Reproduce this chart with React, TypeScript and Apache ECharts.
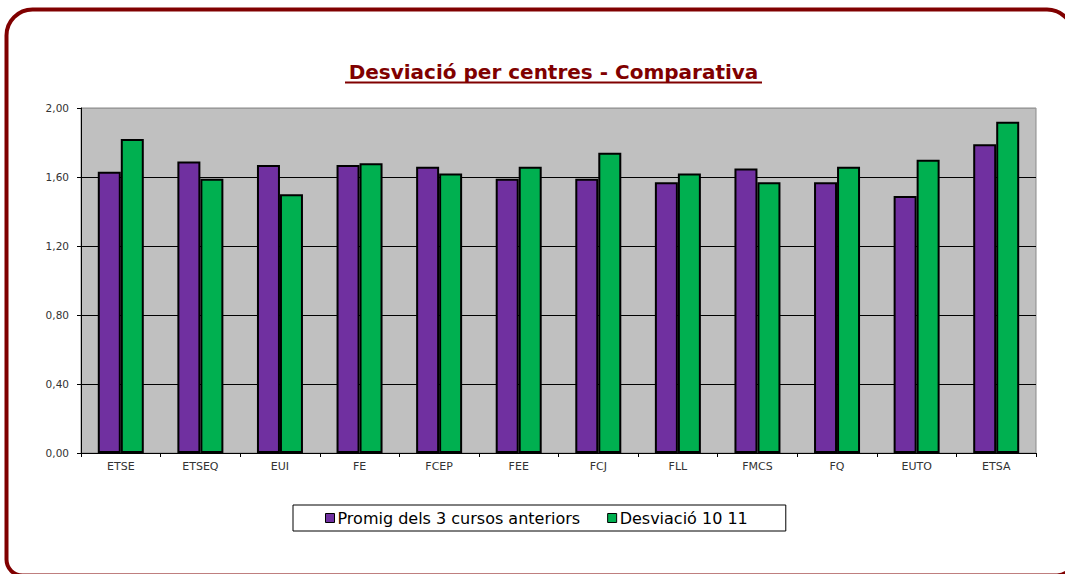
import React, { useEffect, useRef } from "react";
import * as echarts from "echarts";

const categories = ["ETSE", "ETSEQ", "EUI", "FE", "FCEP", "FEE", "FCJ", "FLL", "FMCS", "FQ", "EUTO", "ETSA"];
const promigValues = [1.63, 1.69, 1.67, 1.67, 1.66, 1.59, 1.59, 1.57, 1.65, 1.57, 1.49, 1.79];
const desviacioValues = [1.82, 1.59, 1.5, 1.68, 1.62, 1.66, 1.74, 1.62, 1.57, 1.66, 1.7, 1.92];
const seriesNames = ["Promig dels 3 cursos anteriors", "Desviació 10 11"];
const titleText = "Desviació per centres - Comparativa";

export default function App() {
  const ref = useRef<HTMLDivElement>(null);
  useEffect(() => {
    if (!ref.current) return;
    const chart = echarts.init(ref.current, undefined, { renderer: "svg" });
    const font = "'DejaVu Sans', Verdana, sans-serif";
    chart.setOption({
      animation: false,
      backgroundColor: "#ffffff",
      textStyle: { fontFamily: font },
      grid: {
        left: 81,
        right: 29,
        top: 108,
        bottom: 121,
        show: true,
        backgroundColor: "#C0C0C0",
        borderColor: "#8a8a8a",
        borderWidth: 1,
      },
      legend: {
        left: 293,
        top: 505,
        orient: "horizontal",
        icon: "rect",
        itemWidth: 9,
        itemHeight: 9,
        itemGap: 27,
        padding: [5, 38, 5, 32],
        backgroundColor: "#ffffff",
        borderColor: "#000000",
        borderWidth: 1,
        textStyle: { fontSize: 16, color: "#000", fontFamily: font, padding: [0, 0, 0, -2] },
        itemStyle: { borderColor: "#000", borderWidth: 1 },
        data: seriesNames,
      },
      xAxis: {
        type: "category",
        data: categories,
        axisLine: { lineStyle: { color: "#000", width: 1 } },
        axisTick: { show: true, length: 4, lineStyle: { color: "#000" } },
        axisLabel: { fontSize: 11, color: "#333", margin: 8, fontFamily: font },
      },
      yAxis: {
        type: "value",
        min: 0,
        max: 2,
        interval: 0.4,
        axisLine: { show: true, lineStyle: { color: "#000", width: 1 } },
        axisTick: { show: true, length: 4, lineStyle: { color: "#000" } },
        axisLabel: {
          fontSize: 10.5,
          color: "#333",
          margin: 12,
          fontFamily: font,
          formatter: (v: number) => v.toFixed(2).replace(".", ","),
        },
        splitLine: {
          show: true,
          lineStyle: { color: ["#000", "#000", "#000", "#000", "#000", "#9a9a9a"], width: 1 },
        },
      },
      series: [
        {
          name: seriesNames[0],
          type: "bar",
          data: promigValues,
          barWidth: 23,
          barGap: "0%",
          itemStyle: { color: "#7030A0", borderColor: "#000", borderWidth: 2 },
        },
        {
          name: seriesNames[1],
          type: "bar",
          data: desviacioValues,
          barWidth: 23,
          barGap: "0%",
          itemStyle: { color: "#00B050", borderColor: "#000", borderWidth: 2 },
        },
      ],
      graphic: [
        {
          type: "rect",
          shape: { x: 6.5, y: 9.5, width: 1066.5, height: 566, r: [26, 26, 16, 16] },
          style: { fill: "none", stroke: "#800000", lineWidth: 4 },
          silent: true,
        },
        {
          type: "text",
          x: 553.5,
          y: 72,
          style: {
            text: titleText,
            fill: "#800000",
            font: "bold 20px 'DejaVu Sans', Verdana, sans-serif",
            textAlign: "center",
            textVerticalAlign: "middle",
          },
        },
        {
          type: "line",
          shape: { x1: 345, y1: 82.5, x2: 762, y2: 82.5 },
          style: { stroke: "#800000", lineWidth: 2 },
        },
      ],
    });
    return () => chart.dispose();
  }, []);
  return (
    <div
      ref={ref}
      style={{ position: "fixed", left: 0, top: 0, width: 1065, height: 574 }}
    />
  );
}
